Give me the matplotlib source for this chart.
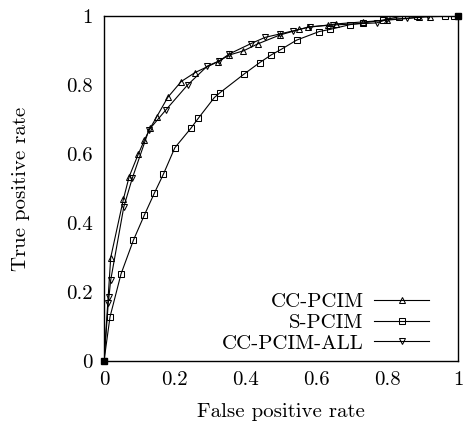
import matplotlib
matplotlib.use("Agg")
import matplotlib.pyplot as plt

plt.rcParams['font.family'] = ['cmr10', 'DejaVu Serif']
plt.rcParams['axes.formatter.use_mathtext'] = True

# CC-PCIM (triangle up)
cc_fpr = [0.0, 0.019, 0.055, 0.071, 0.097, 0.114, 0.13, 0.149, 0.18, 0.218, 0.257,
          0.323, 0.354, 0.394, 0.434, 0.497, 0.552, 0.576, 0.634, 0.655, 0.733,
          0.80, 0.89, 0.92, 1.0]
cc_tpr = [0.0, 0.30, 0.47, 0.534, 0.60, 0.64, 0.674, 0.708, 0.764, 0.81, 0.836,
          0.868, 0.887, 0.899, 0.919, 0.945, 0.961, 0.967, 0.974, 0.977, 0.983,
          0.988, 0.996, 0.998, 1.0]

# S-PCIM (square)
s_fpr = [0.0, 0.017, 0.048, 0.083, 0.114, 0.142, 0.168, 0.2, 0.245, 0.266, 0.312,
         0.328, 0.396, 0.44, 0.472, 0.5, 0.544, 0.608, 0.638, 0.695, 0.733, 0.787,
         0.834, 0.885, 0.963, 0.99, 1.0]
s_tpr = [0.0, 0.128, 0.252, 0.35, 0.423, 0.486, 0.542, 0.618, 0.674, 0.703, 0.764,
         0.778, 0.832, 0.865, 0.887, 0.903, 0.93, 0.955, 0.961, 0.975, 0.98, 0.988,
         0.998, 1.0, 1.0, 1.0, 1.0]

# CC-PCIM-ALL (triangle down)
all_fpr = [0.0, 0.012, 0.014, 0.019, 0.056, 0.08, 0.127, 0.175, 0.236, 0.292, 0.326,
           0.354, 0.415, 0.455, 0.497, 0.535, 0.582, 0.648, 0.77, 0.80, 0.856,
           0.915, 1.0]
all_tpr = [0.0, 0.167, 0.186, 0.235, 0.447, 0.53, 0.67, 0.728, 0.80, 0.855, 0.87,
           0.89, 0.92, 0.938, 0.948, 0.957, 0.969, 0.974, 0.98, 0.99, 0.993,
           1.0, 1.0]

fig = plt.figure(figsize=(4.64, 4.25), dpi=100)
ax = fig.add_axes([104/464, 1 - 361/425, 354/464, 345/425])

common = dict(color='black', lw=0.8, ms=3.8, mfc='none', mec='black', mew=0.75)
ax.plot(cc_fpr, cc_tpr, marker='^', label='CC-PCIM', **common)
ax.plot(s_fpr, s_tpr, marker='s', label='S-PCIM', **common)
ax.plot(all_fpr, all_tpr, marker='v', label='CC-PCIM-ALL', **common)
# filled corner marks as in the original
ax.plot([0, 1], [0, 1], ls='none', marker='s', ms=4, color='black', clip_on=False)

ax.set_xlim(0, 1)
ax.set_ylim(0, 1)
ax.set_xticks([0, 0.2, 0.4, 0.6, 0.8, 1])
ax.set_yticks([0, 0.2, 0.4, 0.6, 0.8, 1])
ax.set_xticklabels(['0', '0.2', '0.4', '0.6', '0.8', '1'])
ax.set_yticklabels(['0', '0.2', '0.4', '0.6', '0.8', '1'])
ax.tick_params(axis='x', length=0, labelsize=15, pad=7)
ax.tick_params(axis='y', length=0, labelsize=15, pad=8)
for s in ax.spines.values():
    s.set_linewidth(1.0)

ax.set_xlabel('False positive rate', fontsize=15, labelpad=10)
ax.set_ylabel('True positive rate', fontsize=15, labelpad=26)

ax.legend(loc='lower right', bbox_to_anchor=(0.942, 0.0), frameon=False,
          fontsize=15, markerfirst=False, handlelength=2.65, handletextpad=0.5,
          labelspacing=0.1, borderaxespad=0)

fig.savefig('out.png', dpi=100)
